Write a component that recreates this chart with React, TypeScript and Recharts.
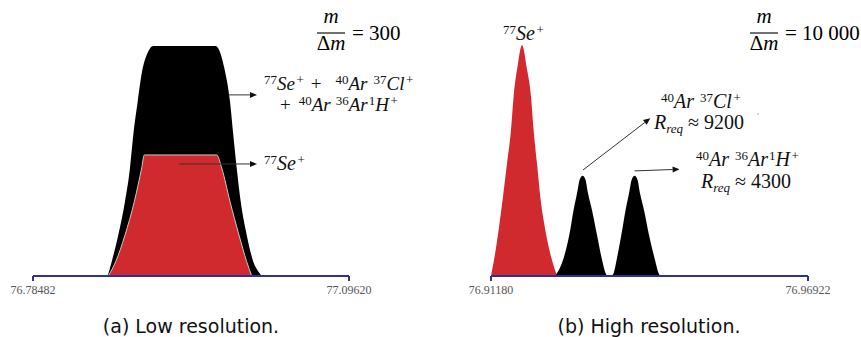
import React from "react";
import { AreaChart, Area, XAxis, YAxis, ReferenceLine } from "recharts";

// low resolution (m/Δm = 300): m = mass, v = relative intensity
const lowTotal = [
  { m: 76.85843, v: 0 },
  { m: 76.86237, v: 6.2 },
  { m: 76.86887, v: 17.7 },
  { m: 76.87547, v: 32.2 },
  { m: 76.8804, v: 46.8 },
  { m: 76.88365, v: 61 },
  { m: 76.88799, v: 75.5 },
  { m: 76.89292, v: 90 },
  { m: 76.89686, v: 95.7 },
  { m: 76.90336, v: 99.6 },
  { m: 76.96485, v: 99.6 },
  { m: 76.97007, v: 95.7 },
  { m: 76.97332, v: 90 },
  { m: 76.97894, v: 75.5 },
  { m: 76.98219, v: 61 },
  { m: 76.98554, v: 46.8 },
  { m: 76.98948, v: 32.2 },
  { m: 76.9954, v: 17.7 },
  { m: 77.0019, v: 6.2 },
  { m: 77.00683, v: 1.9 },
  { m: 77.01018, v: 0 },
];

const lowSe = [
  { m: 76.85902, v: 0 },
  { m: 76.86631, v: 6.2 },
  { m: 76.87547, v: 17.7 },
  { m: 76.88464, v: 32.2 },
  { m: 76.89193, v: 46.8 },
  { m: 76.89449, v: 52.4 },
  { m: 76.96583, v: 52.4 },
  { m: 76.97076, v: 46.8 },
  { m: 76.97894, v: 32.2 },
  { m: 76.98781, v: 17.7 },
  { m: 76.9954, v: 6.2 },
  { m: 77.00032, v: 0 },
];

// high resolution (m/Δm = 10 000)
const highSe = [
  { m: 76.9118, v: 0 },
  { m: 76.91245, v: 8.4 },
  { m: 76.91318, v: 19.9 },
  { m: 76.91397, v: 34.3 },
  { m: 76.9147, v: 48.8 },
  { m: 76.91542, v: 63.2 },
  { m: 76.91589, v: 77.6 },
  { m: 76.91669, v: 92 },
  { m: 76.91706, v: 97.5 },
  { m: 76.91742, v: 100 },
  { m: 76.91778, v: 97.5 },
  { m: 76.91814, v: 92 },
  { m: 76.91905, v: 77.6 },
  { m: 76.91952, v: 63.2 },
  { m: 76.92013, v: 48.8 },
  { m: 76.92073, v: 34.3 },
  { m: 76.92164, v: 19.9 },
  { m: 76.92267, v: 8.4 },
  { m: 76.92376, v: 0 },
];

const highArCl = [
  { m: 76.92332, v: 0 },
  { m: 76.92375, v: 1.2 },
  { m: 76.92484, v: 6.9 },
  { m: 76.92598, v: 17.7 },
  { m: 76.92676, v: 28.6 },
  { m: 76.92738, v: 35.8 },
  { m: 76.92785, v: 41.6 },
  { m: 76.92839, v: 43.4 },
  { m: 76.92893, v: 41.6 },
  { m: 76.92937, v: 35.8 },
  { m: 76.93009, v: 28.6 },
  { m: 76.931, v: 17.7 },
  { m: 76.93192, v: 6.9 },
  { m: 76.93256, v: 1.2 },
  { m: 76.93301, v: 0 },
];

const highArArH = [
  { m: 76.93364, v: 0 },
  { m: 76.93401, v: 1.2 },
  { m: 76.93455, v: 6.9 },
  { m: 76.9354, v: 17.7 },
  { m: 76.93618, v: 28.6 },
  { m: 76.9368, v: 35.8 },
  { m: 76.93727, v: 41.6 },
  { m: 76.93781, v: 43.4 },
  { m: 76.93835, v: 41.6 },
  { m: 76.93879, v: 35.8 },
  { m: 76.93951, v: 28.6 },
  { m: 76.94042, v: 17.7 },
  { m: 76.94151, v: 6.9 },
  { m: 76.94216, v: 1.2 },
  { m: 76.94252, v: 0 },
];

const lowTicks = [76.78482, 77.0962];
const highTicks = [76.9118, 76.96922];

// annotation arrows, [from, to] in data units
const lowArrows = [
  [{ x: 76.97697, y: 78.4 }, { x: 77.00555, y: 78.4 }],
  [{ x: 76.92869, y: 48.5 }, { x: 77.00555, y: 48.5 }],
];
const highArrows = [
  [{ x: 76.92847, y: 45.9 }, { x: 76.94066, y: 68.3 }],
  [{ x: 76.93781, y: 45.5 }, { x: 76.94596, y: 46.2 }],
];

const RED = "#d12a2e";
const AXIS = "#2e3192";
const MATH = "Liberation Serif";

const Arrow = (props: any) => {
  const { x1, y1, x2, y2 } = props;
  const a = Math.atan2(y2 - y1, x2 - x1);
  const L = 7;
  const W = 3;
  const bx = x2 - L * Math.cos(a);
  const by = y2 - L * Math.sin(a);
  const px = -Math.sin(a) * W;
  const py = Math.cos(a) * W;
  return (
    <g>
      <line x1={x1} y1={y1} x2={bx} y2={by} stroke="#333" strokeWidth={1} />
      <polygon
        points={`${x2},${y2} ${bx + px},${by + py} ${bx - px},${by - py}`}
        fill="#111"
      />
    </g>
  );
};

// [text, kind, gap before]
type Part = [string, "i" | "n" | "sup" | "sub", number?];

const MathText = ({
  x,
  y,
  parts,
  size = 20,
}: {
  x: number;
  y: number;
  parts: Part[];
  size?: number;
}) => (
  <text
    x={x}
    y={y}
    fontFamily={MATH}
    fontSize={size}
    fill="#111"
    style={{ whiteSpace: "pre" }}
  >
    {parts.map(([t, k, dx], i) => (
      <tspan
        key={i}
        dx={dx || 0}
        fontStyle={k === "i" || k === "sub" ? "italic" : "normal"}
        fontSize={k === "sup" || k === "sub" ? 13 : size}
        baselineShift={k === "sup" ? 6 : k === "sub" ? -4 : 0}
      >
        {t}
      </tspan>
    ))}
  </text>
);

const Fraction = ({ cx, x, value }: { cx: number; x: number; value: string }) => (
  <g>
    <text x={cx} y={23} textAnchor="middle" fontFamily={MATH} fontSize={21} fontStyle="italic">
      m
    </text>
    <line x1={cx - 14} y1={33} x2={cx + 14} y2={33} stroke="#111" strokeWidth={1.2} />
    <text x={cx} y={50} textAnchor="middle" fontFamily={MATH} fontSize={21}>
      Δ<tspan fontStyle="italic">m</tspan>
    </text>
    <text x={x} y={40} fontFamily={MATH} fontSize={21} style={{ whiteSpace: "pre" }}>
      {"= " + value}
    </text>
  </g>
);

const tickStyle = { fontFamily: MATH, fontSize: 12, fill: "#555" };
const CAPTION = "DejaVu Sans";

const App = () => {
  return (
    <div style={{ position: "fixed", left: 0, top: 0, width: 861, height: 337, background: "#fff" }}>
      <div style={{ position: "absolute", left: 0, top: 0 }}>
        <AreaChart width={430} height={337} margin={{ top: 45, right: 81, bottom: 31, left: 33 }}>
          <XAxis
            dataKey="m"
            type="number"
            domain={[lowTicks[0], lowTicks[1]]}
            ticks={lowTicks}
            tickFormatter={(t: number) => t.toFixed(5)}
            allowDataOverflow
            height={30}
            stroke={AXIS}
            strokeWidth={2}
            tickSize={5}
            tickMargin={4}
            tick={tickStyle}
            interval={0}
          />
          <YAxis hide type="number" domain={[0, 100]} />
          <Area
            data={lowTotal}
            dataKey="v"
            type="monotone"
            fill="#000"
            fillOpacity={1}
            stroke="none"
            isAnimationActive={false}
          />
          <Area
            data={lowSe}
            dataKey="v"
            type="monotone"
            fill={RED}
            fillOpacity={1}
            stroke="#c8c8c8"
            strokeWidth={1}
            isAnimationActive={false}
          />
          {lowArrows.map((s, i) => (
            <ReferenceLine key={i} segment={s} shape={Arrow} ifOverflow="visible" />
          ))}
        </AreaChart>
      </div>
      <div style={{ position: "absolute", left: 430, top: 0 }}>
        <AreaChart width={431} height={337} margin={{ top: 45, right: 53, bottom: 31, left: 61 }}>
          <XAxis
            dataKey="m"
            type="number"
            domain={[highTicks[0], highTicks[1]]}
            ticks={highTicks}
            tickFormatter={(t: number) => t.toFixed(5)}
            allowDataOverflow
            height={30}
            stroke={AXIS}
            strokeWidth={2}
            tickSize={5}
            tickMargin={4}
            tick={tickStyle}
            interval={0}
          />
          <YAxis hide type="number" domain={[0, 100]} />
          <Area data={highSe} dataKey="v" type="monotone" fill={RED} fillOpacity={1} stroke="none" isAnimationActive={false} />
          <Area data={highArCl} dataKey="v" type="monotone" fill="#000" fillOpacity={1} stroke="none" isAnimationActive={false} />
          <Area data={highArArH} dataKey="v" type="monotone" fill="#000" fillOpacity={1} stroke="none" isAnimationActive={false} />
          {highArrows.map((s, i) => (
            <ReferenceLine key={i} segment={s} shape={Arrow} ifOverflow="visible" />
          ))}
        </AreaChart>
      </div>
      <svg
        width={861}
        height={337}
        style={{ position: "absolute", left: 0, top: 0, pointerEvents: "none" }}
      >
        <Fraction cx={331} x={352} value="300" />
        <Fraction cx={764} x={785} value="10 000" />

        <MathText
          x={264}
          y={90}
          size={19}
          parts={[
            ["77", "sup"],
            ["Se", "i"],
            ["+", "sup", 1.5],
            ["+", "n", 7],
            ["40", "sup", 14],
            ["Ar", "i"],
            ["37", "sup", 6],
            ["Cl", "i"],
            ["+", "sup", 1.5],
          ]}
        />
        <MathText
          x={280}
          y={111}
          size={19}
          parts={[
            ["+", "n"],
            ["40", "sup", 8],
            ["Ar", "i"],
            ["36", "sup", 5],
            ["Ar", "i"],
            ["1", "sup", 1],
            ["H", "i"],
            ["+", "sup", 1.5],
          ]}
        />
        <MathText x={264} y={170} parts={[["77", "sup"], ["Se", "i"], ["+", "sup", 1.5]]} />

        <MathText x={503} y={40} parts={[["77", "sup"], ["Se", "i"], ["+", "sup", 1.5]]} />
        <MathText
          x={661}
          y={108}
          parts={[["40", "sup"], ["Ar", "i"], ["37", "sup", 6], ["Cl", "i"], ["+", "sup", 1.5]]}
        />
        <MathText x={654} y={129} parts={[["R", "i"], ["req", "sub"], ["≈ 9200", "n", 5]]} />
        <MathText
          x={696}
          y={166}
          parts={[["40", "sup"], ["Ar", "i"], ["36", "sup", 6], ["Ar", "i"], ["1", "sup", 1], ["H", "i"], ["+", "sup", 1.5]]}
        />
        <MathText x={701} y={188} parts={[["R", "i"], ["req", "sub"], ["≈ 4300", "n", 5]]} />
        <circle cx={758} cy={114} r={0.8} fill="#aaa" />

        <text x={191} y={333} textAnchor="middle" fontFamily={CAPTION} fontSize={19} fill="#111">
          (a) Low resolution.
        </text>
        <text x={649} y={333} textAnchor="middle" fontFamily={CAPTION} fontSize={19} fill="#111">
          (b) High resolution.
        </text>
      </svg>
    </div>
  );
};

export default App;
